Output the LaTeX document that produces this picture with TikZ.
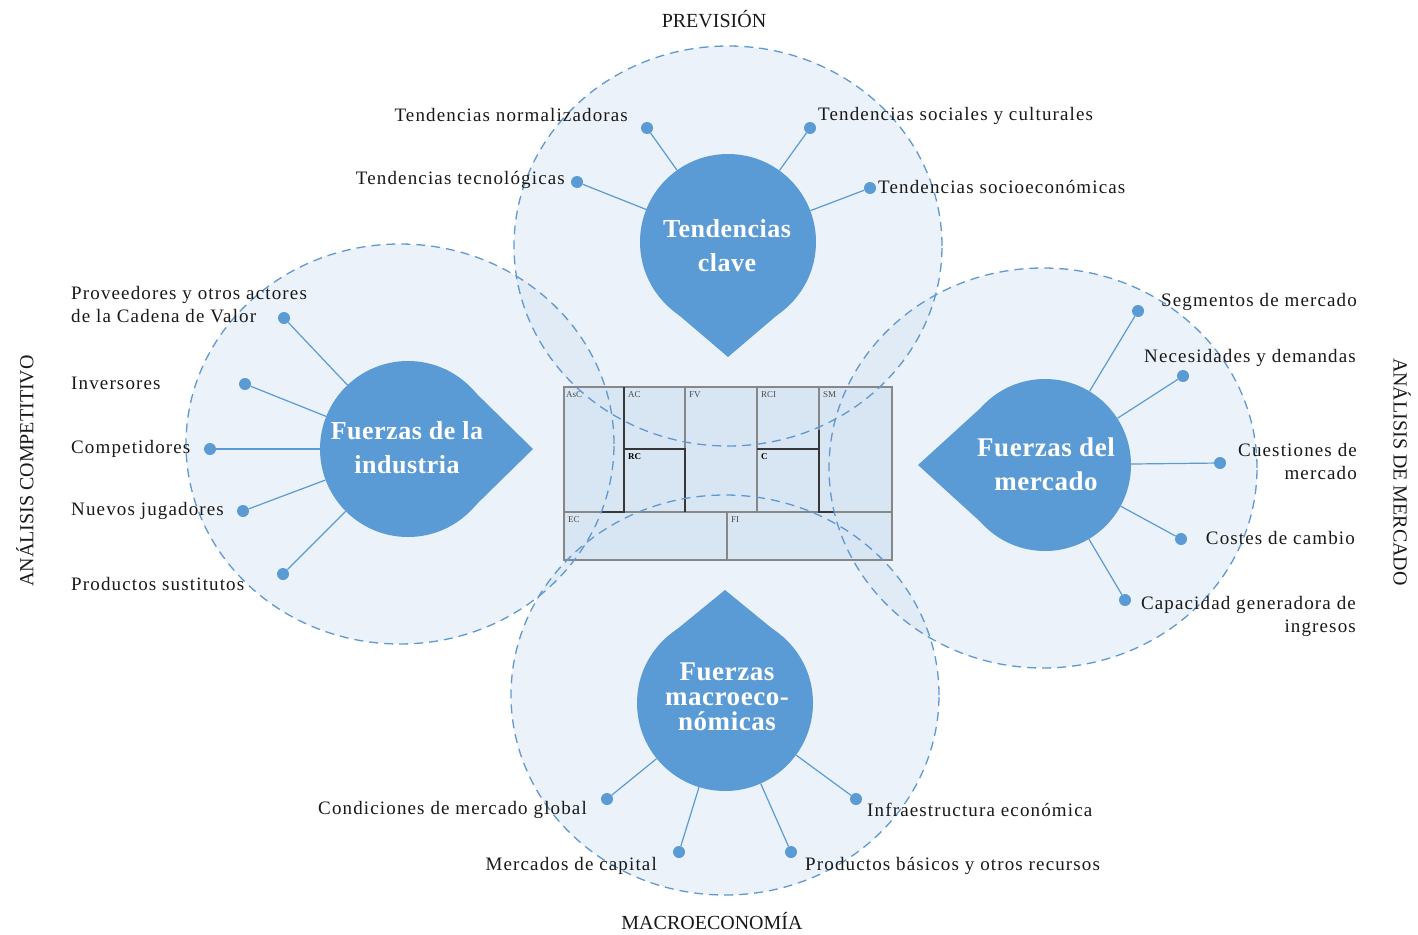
\documentclass[tikz,border=0pt]{standalone}
\usepackage{fontspec}
\setmainfont{Liberation Serif}
\newfontfamily\lblfont{Liberation Serif}[LetterSpace=6]
\newfontfamily\ttlfont{Liberation Serif}[LetterSpace=2]
\usetikzlibrary{calc}
\definecolor{dropblue}{RGB}{91,155,213}
\definecolor{ringblue}{RGB}{96,152,210}
\definecolor{ringfill}{RGB}{211,227,243}
\definecolor{gridfill}{RGB}{216,229,243}
\definecolor{gridline}{RGB}{135,135,135}
\definecolor{griddark}{RGB}{55,55,55}
\definecolor{txt}{RGB}{25,25,25}
% teardrop: centre (#1,#2), radius #3, tip distance #4, tip direction #5
\newcommand{\tdrop}[5]{%
  \pgfmathsetmacro\dropin{#3-0.5}%
  \pgfmathsetmacro\dropang{acos(\dropin/#4)}%
  \fill[dropblue] (#1,#2) circle[radius=#3pt];
  \fill[dropblue] ($(#1,#2)+(#5:#4pt)$)
    -- ($(#1,#2)+(#5+\dropang:\dropin pt)$)
    -- ($(#1,#2)+(#5-\dropang:\dropin pt)$) -- cycle;}
\tikzset{
  ringfillst/.style={fill=ringfill, fill opacity=0.45, draw=none},
  ringline/.style={draw=ringblue, line width=1.3pt, dash pattern=on 9pt off 6pt},
  hub/.style={circle, minimum size=#1, inner sep=0pt, draw=none},
  dot/.style={circle, fill=dropblue, minimum size=12pt, inner sep=0pt},
  link/.style={draw=dropblue, line width=1.2pt},
  lbl/.style={inner sep=0pt, text=txt, font=\lblfont\fontsize{19}{23}\selectfont},
  ttl/.style={text=white, align=center, inner sep=0pt, font=\ttlfont\bfseries\fontsize{26}{34}\selectfont},
  side/.style={inner sep=0pt, text=txt, font=\fontsize{20}{24}\selectfont},
  cell/.style={fill=gridfill, draw=gridline, line width=1.3pt},
  cellt/.style={inner sep=0pt, anchor=north west, text=black!70, font=\fontsize{9}{10}\selectfont},
}
\begin{document}
\begin{tikzpicture}[x=1pt,y=1pt]
\useasboundingbox[fill=white] (0,0) rectangle (1418,-934);

% ring fills
\fill[ringfillst] (728,-246) ellipse [x radius=214pt, y radius=200pt];
\fill[ringfillst] (400,-444) ellipse [x radius=214pt, y radius=200pt];
\fill[ringfillst] (1043,-468) ellipse [x radius=214pt, y radius=200pt];
\fill[ringfillst] (725,-695) ellipse [x radius=214pt, y radius=200pt];

% central grid
\draw[cell] (564,-387) rectangle (892,-560);
\draw[cell] (564,-387) rectangle (624,-512);
\draw[cell] (624,-387) rectangle (685,-449);
\draw[cell] (624,-449) rectangle (685,-512);
\draw[cell] (685,-387) rectangle (757,-512);
\draw[cell] (757,-387) rectangle (819,-449);
\draw[cell] (757,-449) rectangle (819,-512);
\draw[cell] (819,-387) rectangle (892,-512);
\draw[cell] (564,-512) rectangle (727,-560);
\draw[cell] (727,-512) rectangle (892,-560);
\draw[griddark, line width=1.5pt] (624,-387) -- (624,-512) -- (602,-512);
\draw[griddark, line width=1.5pt] (624,-449) -- (685,-449) -- (685,-512);
\draw[griddark, line width=1.5pt] (757,-449) -- (819,-449);
\draw[griddark, line width=1.5pt] (819,-430) -- (819,-512) -- (835,-512);
\node[cellt] (gasc) at (566,-391) {AsC};
\node[cellt] (gac) at (628,-391) {AC};
\node[cellt] (gfv) at (689,-391) {FV};
\node[cellt] (grci) at (761,-391) {RCI};
\node[cellt] (gsm) at (823,-391) {SM};
\node[cellt, text=black, font=\bfseries\fontsize{9}{10}\selectfont] (grc) at (628,-453) {RC};
\node[cellt, text=black, font=\bfseries\fontsize{9}{10}\selectfont] (gc) at (761,-453) {C};
\node[cellt] (gec) at (568,-516) {EC};
\node[cellt] (gfi) at (731,-516) {FI};

% ring outlines
\draw[ringline] (728,-246) ellipse [x radius=214pt, y radius=200pt];
\draw[ringline] (400,-444) ellipse [x radius=214pt, y radius=200pt];
\draw[ringline] (1043,-468) ellipse [x radius=214pt, y radius=200pt];
\draw[ringline] (725,-695) ellipse [x radius=214pt, y radius=200pt];

% hubs
\node[hub=176pt] (tk) at (728,-242) {};
\node[hub=176pt] (fi) at (408,-449) {};
\node[hub=172pt] (fm) at (1045,-465) {};
\node[hub=176pt] (fma) at (725,-703) {};

% dots
\node[dot] (t1) at (647,-128) {};
\node[dot] (t2) at (810,-128) {};
\node[dot] (t3) at (577,-182) {};
\node[dot] (t4) at (870,-188) {};
\node[dot] (l1) at (284,-318) {};
\node[dot] (l2) at (245,-384) {};
\node[dot] (l3) at (210,-449) {};
\node[dot] (l4) at (243,-511) {};
\node[dot] (l5) at (283,-574) {};
\node[dot] (r1) at (1138,-311) {};
\node[dot] (r2) at (1183,-376) {};
\node[dot] (r3) at (1220,-463) {};
\node[dot] (r4) at (1181,-539) {};
\node[dot] (r5) at (1125,-600) {};
\node[dot] (b1) at (607,-799) {};
\node[dot] (b2) at (679,-852) {};
\node[dot] (b3) at (856,-799) {};
\node[dot] (b4) at (791,-852) {};

% connectors
\foreach \d in {t1,t2,t3,t4} \draw[link] (\d) -- (tk);
\foreach \d in {l1,l2,l3,l4,l5} \draw[link] (\d) -- (fi);
\foreach \d in {r1,r2,r3,r4,r5} \draw[link] (\d) -- (fm);
\foreach \d in {b1,b2,b3,b4} \draw[link] (\d) -- (fma);

% drops
\tdrop{728}{-242}{88}{115}{-90}
\tdrop{408}{-449}{88}{125}{0}
\tdrop{1045}{-465}{86}{127}{180}
\tdrop{725}{-703}{88}{113}{90}

% titles
\node[ttl] (ttk) at (727,-246) {Tendencias\\clave};
\node[ttl] (tfi) at (407,-448) {Fuerzas de la\\industria};
\node[ttl, font=\ttlfont\bfseries\fontsize{27}{34}\selectfont] (tfm) at (1046,-464) {Fuerzas del\\mercado};
\node[ttl, font=\ttlfont\bfseries\fontsize{27}{25}\selectfont] (tfma) at (727,-697) {Fuerzas\\macroeco-\\nómicas};

% labels
\node[lbl, anchor=east] (lt1) at (628,-115) {Tendencias normalizadoras};
\node[lbl, anchor=west] (lt2) at (818,-116) {Tendencias sociales y culturales};
\node[lbl, anchor=east] (lt3) at (565,-180) {Tendencias tecnológicas};
\node[lbl, anchor=west] (lt4) at (878,-187) {Tendencias socioeconómicas};
\node[lbl, anchor=west, align=left] (ll1) at (71,-305) {Proveedores y otros actores\\de la Cadena de Valor};
\node[lbl, anchor=west] (ll2) at (71,-383) {Inversores};
\node[lbl, anchor=west] (ll3) at (71,-449) {Competidores};
\node[lbl, anchor=west] (ll4) at (71,-511) {Nuevos jugadores};
\node[lbl, anchor=west] (ll5) at (71,-584) {Productos sustitutos};
\node[lbl, anchor=east] (lr1) at (1357,-302) {Segmentos de mercado};
\node[lbl, anchor=east] (lr2) at (1356,-358) {Necesidades y demandas};
\node[lbl, anchor=east, align=right] (lr3) at (1357,-461) {Cuestiones de\\mercado};
\node[lbl, anchor=east] (lr4) at (1355,-538) {Costes de cambio};
\node[lbl, anchor=east, align=right] (lr5) at (1356,-616) {Capacidad generadora de\\ingresos};
\node[lbl, anchor=east] (lb1) at (587,-810) {Condiciones de mercado global};
\node[lbl, anchor=east] (lb2) at (657,-866) {Mercados de capital};
\node[lbl, anchor=west] (lb3) at (867,-810) {Infraestructura económica};
\node[lbl, anchor=west] (lb4) at (805,-866) {Productos básicos y otros recursos};

% side titles
\node[side] (sp) at (714,-19) {PREVISIÓN};
\node[side] (sm) at (712,-921) {MACROECONOMÍA};
\node[side, rotate=90] (sc) at (25,-471) {ANÁLISIS COMPETITIVO};
\node[side, rotate=-90] (sd) at (1402,-472) {ANÁLISIS DE MERCADO};
\end{tikzpicture}
\end{document}
